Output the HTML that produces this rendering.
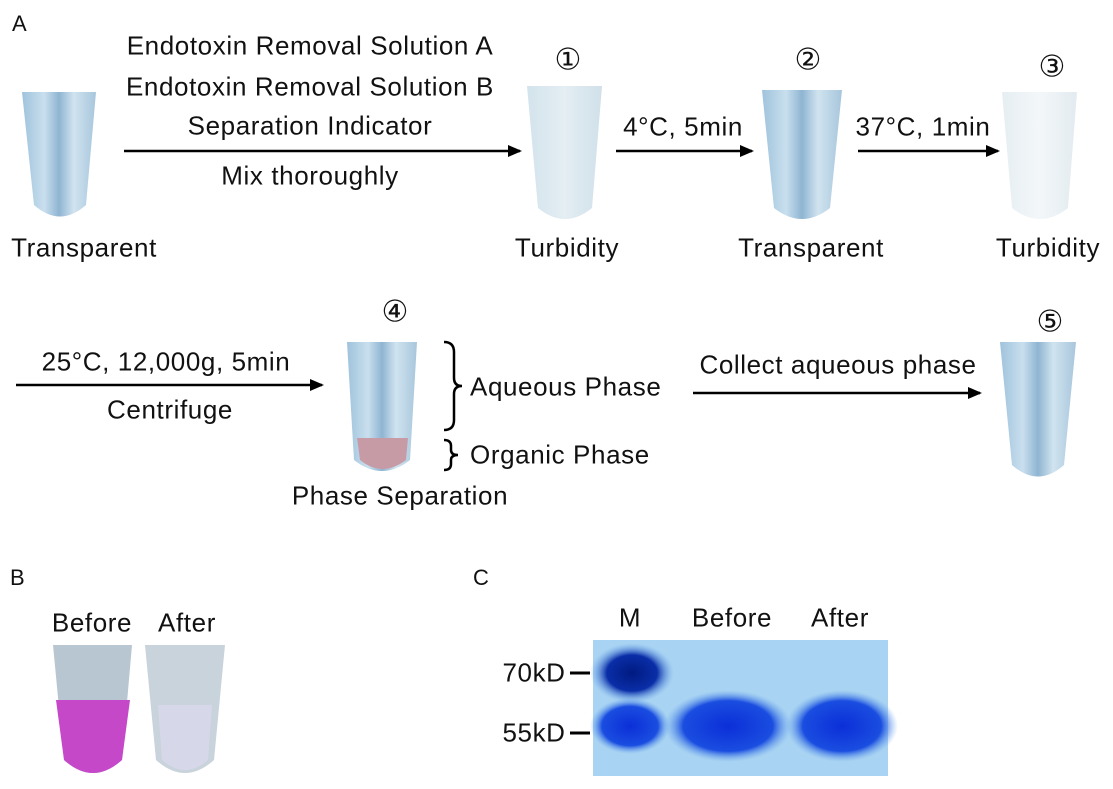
<!DOCTYPE html>
<html><head><meta charset="utf-8"><style>
body{margin:0;width:1113px;height:789px;background:#fff;position:relative;overflow:hidden;font-family:"Liberation Sans","DejaVu Sans",sans-serif;color:#111}
.t{position:absolute;font-size:26px;letter-spacing:0.6px;white-space:nowrap;transform:translate(-50%,-50%)}
.l{position:absolute;font-size:26px;letter-spacing:0.6px;white-space:nowrap;transform:translateY(-50%)}
.c{font-size:30px;letter-spacing:0}
svg{position:absolute;left:0;top:0}
</style></head><body>
<svg width="1113" height="789">
<defs>
<marker id="ah" markerWidth="14" markerHeight="12" refX="12" refY="6" orient="auto" markerUnits="userSpaceOnUse"><path d="M0,0 L14,6 L0,12 z" fill="#000"/></marker>
<linearGradient id="clr" x1="0" x2="1"><stop offset="0" stop-color="#9fc3dc"/><stop offset=".3" stop-color="#c9dfee"/><stop offset=".5" stop-color="#8fb5d2"/><stop offset=".7" stop-color="#d0e3ef"/><stop offset="1" stop-color="#a7c6dc"/></linearGradient>
<linearGradient id="tur" x1="0" x2="1"><stop offset="0" stop-color="#d3e3ec"/><stop offset=".5" stop-color="#e4eef3"/><stop offset="1" stop-color="#d0e0ea"/></linearGradient>
<linearGradient id="wh" x1="0" x2="1"><stop offset="0" stop-color="#e6eef2"/><stop offset=".5" stop-color="#f3f7f9"/><stop offset="1" stop-color="#e2ebf0"/></linearGradient>
<radialGradient id="b1"><stop offset="0" stop-color="#001a80"/><stop offset=".6" stop-color="#0a2ea8"/><stop offset="1" stop-color="#6aa8ee" stop-opacity="0"/></radialGradient>
<radialGradient id="b2"><stop offset="0" stop-color="#0b2fd8"/><stop offset=".7" stop-color="#1a4de0"/><stop offset="1" stop-color="#6aa8ee" stop-opacity="0"/></radialGradient>
</defs>
<path d="M22,92 L96,92 L86,205 Q60,228 34,205 Z" fill="url(#clr)"/>
<path d="M527,86 L602,86 L592,208 Q565,230 538,208 Z" fill="url(#tur)"/>
<path d="M762,90 L842,90 L830,208 Q802,230 774,208 Z" fill="url(#clr)"/>
<path d="M1002,92 L1077,92 L1068,208 Q1040,230 1012,208 Z" fill="url(#wh)"/>
<path d="M347,342 L417,342 L410,460 Q382,482 354,460 Z" fill="url(#clr)"/>
<path d="M357,438 L408,438 L406,460 Q382,478 360,460 Z" fill="#c79ba6"/>
<path d="M1000,342 L1076,342 L1064,465 Q1038,488 1012,465 Z" fill="url(#clr)"/>
<path d="M53,645 L132,645 L122,760 Q93,786 64,760 Z" fill="#b8c6d2"/>
<path d="M56,700 L130,700 L122,760 Q93,786 64,760 Z" fill="#c548c8"/>
<path d="M145,645 L225,645 L214,760 Q185,786 156,760 Z" fill="#c9d3dc"/>
<path d="M158,705 L212,705 L208,760 Q185,780 162,760 Z" fill="#d6d8ea"/>
<rect x="593" y="640" width="295" height="136" fill="#a9d3f2"/>
<ellipse cx="632" cy="673" rx="42" ry="30" fill="url(#b1)"/>
<ellipse cx="630" cy="726" rx="40" ry="28" fill="url(#b2)"/>
<ellipse cx="728" cy="726" rx="64" ry="36" fill="url(#b2)"/>
<ellipse cx="842" cy="726" rx="56" ry="36" fill="url(#b2)"/>
<line x1="570" y1="673" x2="590" y2="673" stroke="#000" stroke-width="3"/>
<line x1="570" y1="733" x2="590" y2="733" stroke="#000" stroke-width="3"/>
<g stroke="#000" stroke-width="2.5" fill="none">
<line x1="124" y1="151" x2="520" y2="151" marker-end="url(#ah)"/>
<line x1="616" y1="151" x2="752" y2="151" marker-end="url(#ah)"/>
<line x1="858" y1="151" x2="998" y2="151" marker-end="url(#ah)"/>
<line x1="16" y1="385" x2="322" y2="385" marker-end="url(#ah)"/>
<line x1="693" y1="393" x2="980" y2="393" marker-end="url(#ah)"/>
</g>
<g stroke="#000" stroke-width="2.5" fill="none">
<path d="M444,342 Q454,342 454,352 L454,378 Q454,386 462,386 Q454,386 454,394 L454,420 Q454,430 444,430"/>
<path d="M444,440 Q451,440 451,446 L451,450 Q451,455 458,455 Q451,455 451,460 L451,464 Q451,470 444,470"/>
</g>
</svg>
<div class="l" style="left:12px;top:24px;font-size:22px">A</div>
<div class="t" style="left:310px;top:46px">Endotoxin Removal Solution A</div>
<div class="t" style="left:310px;top:87px">Endotoxin Removal Solution B</div>
<div class="t" style="left:310px;top:126px">Separation Indicator</div>
<div class="t" style="left:310px;top:176px">Mix thoroughly</div>
<div class="t" style="left:84px;top:248px">Transparent</div>
<div class="t c" style="left:568px;top:60px">①</div>
<div class="t" style="left:567px;top:248px">Turbidity</div>
<div class="t" style="left:683px;top:127px">4°C, 5min</div>
<div class="t c" style="left:808px;top:60px">②</div>
<div class="t" style="left:811px;top:248px">Transparent</div>
<div class="t" style="left:923px;top:127px">37°C, 1min</div>
<div class="t c" style="left:1052px;top:67px">③</div>
<div class="t" style="left:1048px;top:248px">Turbidity</div>
<div class="t" style="left:166px;top:362px">25°C, 12,000g, 5min</div>
<div class="t" style="left:170px;top:410px">Centrifuge</div>
<div class="t c" style="left:395px;top:312px">④</div>
<div class="t" style="left:400px;top:496px">Phase Separation</div>
<div class="l" style="left:470px;top:387px">Aqueous Phase</div>
<div class="l" style="left:470px;top:455px">Organic Phase</div>
<div class="t" style="left:838px;top:365px">Collect aqueous phase</div>
<div class="t c" style="left:1050px;top:322px">⑤</div>
<div class="l" style="left:10px;top:578px;font-size:22px">B</div>
<div class="t" style="left:92px;top:623px">Before</div>
<div class="t" style="left:187px;top:623px">After</div>
<div class="l" style="left:473px;top:578px;font-size:22px">C</div>
<div class="t" style="left:630px;top:618px">M</div>
<div class="t" style="left:732px;top:618px">Before</div>
<div class="t" style="left:840px;top:618px">After</div>
<div class="t" style="left:534px;top:673px">70kD</div>
<div class="t" style="left:534px;top:733px">55kD</div>
</body></html>
